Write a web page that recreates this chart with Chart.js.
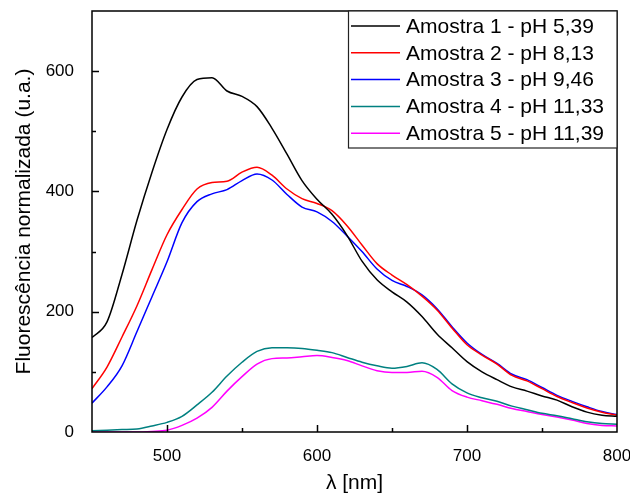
<!DOCTYPE html>
<html>
<head>
<meta charset="utf-8">
<script src="https://cdn.jsdelivr.net/npm/chart.js@4/dist/chart.umd.min.js"></script>
<style>
  html, body { margin: 0; padding: 0; background: #fff; }
  #wrap { width: 630px; height: 496px; }
</style>
</head>
<body>
<div id="wrap"><canvas id="chart" width="630" height="496"></canvas></div>
<script>
// wavelength (nm)
const lambda = [450, 460, 470, 480, 490, 500, 510, 520, 530, 540, 550, 560, 570, 580, 590, 600, 610, 620,
                630, 640, 650, 660, 670, 680, 690, 700, 710, 720, 730, 740, 750, 760, 770, 780, 790, 800];

const amostra1 = [157, 183, 262, 352, 432, 503, 557, 586, 589, 567, 558, 541, 505, 462, 418, 387, 362, 327,
                  284, 253, 233, 216, 192, 163, 140, 117, 100, 87, 75, 68, 60, 53, 42, 33, 28, 26];
const amostra2 = [72, 108, 158, 210, 270, 328, 370, 404, 415, 417, 432, 440, 427, 404, 388, 380, 368, 343,
                  311, 280, 261, 245, 226, 203, 173, 145, 128, 113, 94, 85, 72, 59, 49, 40, 33, 28];
const amostra3 = [48, 75, 110, 167, 225, 283, 348, 383, 396, 403, 418, 429, 419, 395, 374, 366, 350, 326,
                  300, 271, 252, 242, 228, 205, 175, 148, 129, 114, 96, 87, 74, 61, 51, 42, 34, 29];
const amostra4 = [2, 3, 4, 5, 10, 16, 26, 45, 66, 93, 116, 134, 140, 140, 139, 136, 132, 124,
                  116, 110, 106, 109, 115, 104, 80, 65, 57, 51, 43, 37, 31, 27, 22, 17, 14, 13];
const amostra5 = [0, 0, 0, 0, 1, 3, 11, 23, 41, 68, 92, 113, 122, 123, 125, 127, 124, 119,
                  110, 102, 99, 99, 101, 91, 69, 58, 52, 46, 39, 34, 29, 25, 20, 14, 11, 10];

const seriesNames = ['Amostra 1 - pH 5,39', 'Amostra 2 - pH 8,13', 'Amostra 3 - pH 9,46',
                     'Amostra 4 - pH 11,33', 'Amostra 5 - pH 11,39'];
const seriesColors = ['#000000', '#ff0000', '#0000ff', '#008080', '#ff00ff'];
const series = [amostra1, amostra2, amostra3, amostra4, amostra5];

const FONT = "'Liberation Sans', Arial, sans-serif";

// frame, inward ticks and the boxed legend (Origin style)
const framePlugin = {
  id: 'frame',
  afterDraw(chart) {
    const {ctx, chartArea: a, scales: {x, y}} = chart;
    ctx.save();
    ctx.strokeStyle = '#000';
    ctx.lineWidth = 1.5;
    ctx.beginPath();
    x.ticks.forEach(t => {
      if (t.value <= x.min || t.value >= x.max) return;
      const px = Math.round(x.getPixelForValue(t.value)) + 0.5;
      const len = t.value % 100 === 0 ? 7 : 4;
      ctx.moveTo(px, a.bottom); ctx.lineTo(px, a.bottom - len);
    });
    y.ticks.forEach(t => {
      if (t.value <= y.min || t.value >= y.max) return;
      const py = Math.round(y.getPixelForValue(t.value)) + 0.5;
      const len = t.value % 200 === 0 ? 7 : 4;
      ctx.moveTo(a.left, py); ctx.lineTo(a.left + len, py);
    });
    ctx.stroke();
    ctx.strokeRect(a.left, a.top, a.right - a.left, a.bottom - a.top);

    // legend
    const bx = 348, by = a.top, bw = a.right - bx, bh = 137;
    ctx.fillStyle = '#fff';
    ctx.fillRect(bx, by, bw, bh);
    ctx.lineWidth = 1.2;
    ctx.strokeStyle = '#222';
    ctx.strokeRect(bx + 0.5, by, bw - 0.5, bh);
    ctx.font = '21px ' + FONT;
    ctx.textBaseline = 'middle';
    chart.data.datasets.forEach((ds, i) => {
      const ry = by + 15 + i * 26.8;
      ctx.strokeStyle = ds.borderColor;
      ctx.lineWidth = 1.5;
      ctx.beginPath();
      ctx.moveTo(351, ry); ctx.lineTo(400, ry);
      ctx.stroke();
      ctx.fillStyle = '#000';
      ctx.fillText(ds.label, 406, ry + 1);
    });
    ctx.restore();
  }
};

new Chart(document.getElementById('chart'), {
  type: 'line',
  data: {
    datasets: series.map((s, i) => ({
      label: seriesNames[i],
      data: lambda.map((l, j) => ({x: l, y: s[j]})),
      borderColor: seriesColors[i],
      borderWidth: 1.5,
      pointRadius: 0,
      cubicInterpolationMode: 'monotone',
      fill: false
    }))
  },
  options: {
    responsive: false,
    animation: false,
    layout: { padding: { top: 11, right: 13, left: 0, bottom: 0 } },
    plugins: { legend: { display: false }, tooltip: { enabled: false } },
    scales: {
      x: {
        type: 'linear',
        min: 450, max: 800,
        grid: { display: false },
        border: { display: false },
        afterFit: s => { s.height = 64; s.paddingLeft = 0; s.paddingRight = 0; },
        ticks: {
          stepSize: 50,
          padding: 6,
          color: '#000',
          font: { family: FONT, size: 17 },
          maxRotation: 0,
          autoSkip: false,
          callback: v => (v % 100 === 0 ? String(v) : '')
        },
        title: {
          display: true,
          text: 'λ [nm]',
          color: '#000',
          font: { family: FONT, size: 21 },
          padding: { top: 5, bottom: 0 }
        }
      },
      y: {
        min: 0, max: 700,
        grid: { display: false },
        border: { display: false },
        afterFit: s => { s.width = 92; s.paddingTop = 0; s.paddingBottom = 0; },
        ticks: {
          stepSize: 100,
          padding: 10,
          color: '#000',
          font: { family: FONT, size: 17 },
          autoSkip: false,
          callback: v => (v % 200 === 0 && v < 700 ? String(v) : '')
        },
        title: {
          display: true,
          text: 'Fluorescência normalizada (u.a.)',
          color: '#000',
          font: { family: FONT, size: 21 },
          padding: { top: 12, bottom: 0 }
        }
      }
    }
  },
  plugins: [framePlugin]
});
</script>
</body>
</html>
